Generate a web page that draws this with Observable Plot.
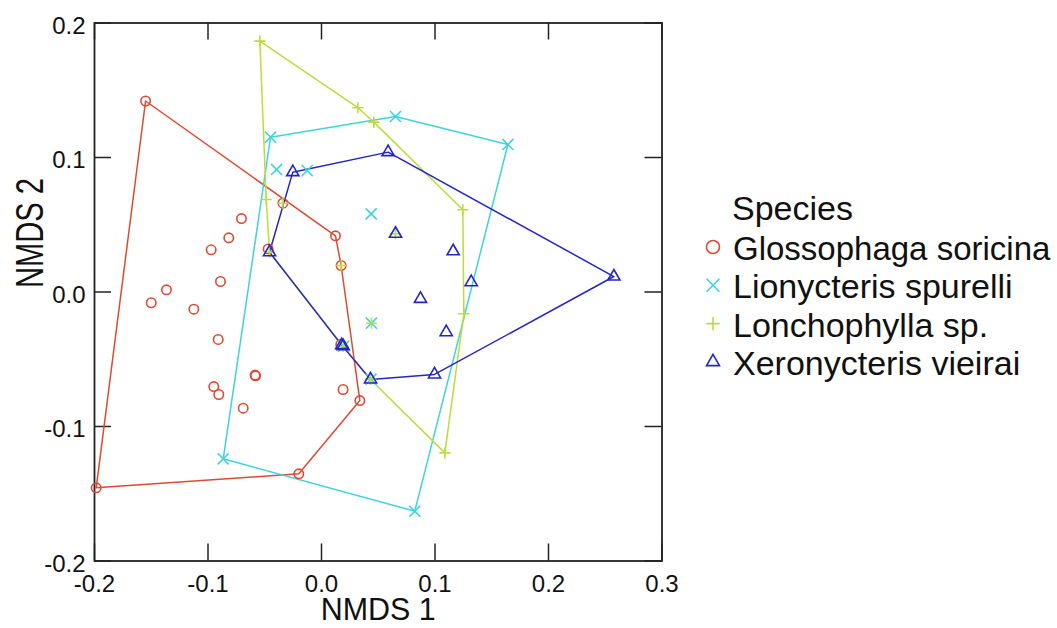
<!DOCTYPE html>
<html>
<head>
<meta charset="utf-8">
<script src="https://cdn.jsdelivr.net/npm/d3@7"></script>
<script src="https://cdn.jsdelivr.net/npm/@observablehq/plot@0.6"></script>
<style>
  html, body { margin: 0; padding: 0; background: #fff; }
  #wrap { position: relative; width: 1057px; height: 628px; overflow: hidden; }
  #legend { position: absolute; left: 0; top: 0; }
</style>
</head>
<body>
<div id="wrap"></div>
<script>
// ---- data ----
const speciesNames = ["Glossophaga soricina", "Lionycteris spurelli", "Lonchophylla sp.", "Xeronycteris vieirai"];
const speciesColors = ["#dd4a33", "#3ed4dc", "#bcdc3c", "#2424c8"];
const speciesSymbols = ["circle", "times", "plus", "triangle2"];

const glossX = [-0.155, -0.1985, -0.020, 0.0338, 0.0123, 0.0173, -0.034, -0.0705, -0.0817, -0.0972, -0.089, -0.1366, -0.150, -0.1125, -0.091, -0.0581, -0.0585, -0.0949, -0.0905, -0.069, 0.019, -0.047, 0.017];
const glossY = [0.142, -0.1456, -0.1352, -0.0807, 0.0418, 0.0197, 0.066, 0.0546, 0.0403, 0.0314, 0.0078, 0.0016, -0.008, -0.0128, -0.0353, -0.0623, -0.0618, -0.0703, -0.0762, -0.0864, -0.0725, 0.032, -0.039];

const lionX = [-0.0449, 0.0652, 0.1642, 0.0822, -0.0866, -0.0396, -0.0126, 0.0438, 0.044, 0.0195, 0.0436];
const lionY = [0.1151, 0.1305, 0.1097, -0.163, -0.124, 0.0911, 0.0903, 0.0581, -0.0232, -0.0403, -0.0648];

const lonchX = [-0.0543, 0.032, 0.0461, 0.1245, 0.1254, 0.1087, 0.0432, 0.0191, -0.0458, -0.0487, 0.044, 0.0173, -0.034, 0.0652];
const lonchY = [0.1865, 0.137, 0.1263, 0.0611, -0.0162, -0.1196, -0.065, -0.0403, 0.0296, 0.0688, -0.0232, 0.0197, 0.066, 0.0433];

const xeroX = [-0.0253, 0.0587, 0.2576, 0.0996, 0.0432, 0.0191, 0.0178, -0.0458, 0.0652, 0.116, 0.1319, 0.0872, 0.1099];
const xeroY = [0.0891, 0.104, 0.0115, -0.0613, -0.065, -0.0403, -0.0395, 0.0296, 0.0433, 0.0303, 0.0073, -0.0051, -0.0299];

const xTicks = [-0.2, -0.1, 0.0, 0.1, 0.2, 0.3];
const yTicks = [-0.2, -0.1, 0.0, 0.1, 0.2];
const xDomain = [-0.2, 0.3];
const yDomain = [-0.2, 0.2];
const xTitle = "NMDS 1";
const yTitle = "NMDS 2";
const legendTitle = "Species";

// ---- build tables ----
const seriesXY = [[glossX, glossY], [lionX, lionY], [lonchX, lonchY], [xeroX, xeroY]];
const points = [];
const hulls = [];
seriesXY.forEach(([xs, ys], i) => {
  const pts = xs.map((x, j) => [x, ys[j]]);
  pts.forEach(([x, y]) => points.push({species: speciesNames[i], x, y}));
  const hull = d3.polygonHull(pts);
  hull.concat([hull[0]]).forEach(([x, y]) => hulls.push({species: speciesNames[i], x, y}));
});

const fmt = d => d.toFixed(1);
const sansFont = "'Liberation Sans', Arial, Helvetica, sans-serif";
const frameW = 1057 - 94 - 395.5;
const frameH = 628 - 22.5 - 67.5;
const tickLen = 17;

const marks = [
  Plot.axisX({ticks: xTicks, tickSize: 0, tickPadding: 14, fontSize: 24, tickFormat: fmt, label: null, fill: "#111"}),
  Plot.axisY({ticks: yTicks, tickSize: 0, tickPadding: 9, fontSize: 24, tickFormat: fmt, label: null, dy: 3, fill: "#111"}),
  // inward ticks
  Plot.ruleX(xTicks, {x: d => d, insetTop: frameH - tickLen, stroke: "#222", strokeWidth: 1.5}),
  Plot.ruleX(xTicks, {x: d => d, insetBottom: frameH - tickLen, stroke: "#222", strokeWidth: 1.5}),
  Plot.ruleY(yTicks, {y: d => d, insetRight: frameW - tickLen, stroke: "#222", strokeWidth: 1.5}),
  Plot.ruleY(yTicks, {y: d => d, insetLeft: frameW - tickLen, stroke: "#222", strokeWidth: 1.5}),
  Plot.frame({stroke: "#222", strokeWidth: 1.8})
];

speciesNames.forEach((name, i) => {
  marks.push(Plot.line(hulls.filter(d => d.species === name), {x: "x", y: "y", stroke: speciesColors[i], strokeWidth: 1.5}));
});
const sizes = [4.7, 5.1, 3.7, 5.8];
speciesNames.forEach((name, i) => {
  marks.push(Plot.dot(points.filter(d => d.species === name), {x: "x", y: "y", stroke: speciesColors[i], symbol: () => speciesSymbols[i], r: sizes[i], strokeWidth: 1.6, fill: "none"}));
});

marks.push(Plot.text([xTitle], {frameAnchor: "bottom", text: d => d, dy: 59, lineAnchor: "bottom", fontSize: 32, fill: "#111"}));
marks.push(Plot.text([yTitle], {frameAnchor: "left", text: d => d, dx: -52, dy: -4, rotate: -90, lineAnchor: "bottom", fontSize: 38, fill: "#111"}));

const chart = Plot.plot({
  width: 1057,
  height: 628,
  marginLeft: 94,
  marginRight: 395.5,
  marginTop: 22.5,
  marginBottom: 67.5,
  x: {domain: xDomain},
  y: {domain: yDomain},
  style: {fontFamily: sansFont, background: "#fff", color: "#111"},
  marks
});
// condense the axis titles (reference uses a narrow face)
d3.select(chart).selectAll("text").each(function() {
  const t = this.textContent;
  if (t === xTitle) d3.select(this).attr("textLength", 115).attr("lengthAdjust", "spacingAndGlyphs");
  if (t === yTitle) d3.select(this).attr("textLength", 110).attr("lengthAdjust", "spacingAndGlyphs");
});
const wrap = document.getElementById("wrap");
wrap.appendChild(chart);

// ---- legend ----
const leg = d3.select(wrap).append("svg").attr("id", "legend").attr("width", 1057).attr("height", 628)
  .style("font-family", sansFont);
leg.append("text").attr("x", 732).attr("y", 220).attr("font-size", 34).attr("fill", "#111").text(legendTitle);
const symMap = {circle: d3.symbolCircle, times: d3.symbolTimes, plus: d3.symbolPlus, triangle2: d3.symbolTriangle2};
const legSizes = [Math.PI * 6.5 * 6.5, 112, 60, 120];
speciesNames.forEach((name, i) => {
  const base = 260 + i * 38.3;
  leg.append("path")
    .attr("d", d3.symbol(symMap[speciesSymbols[i]], legSizes[i])())
    .attr("transform", `translate(713,${base - 13})`)
    .attr("fill", "none").attr("stroke", speciesColors[i]).attr("stroke-width", 1.6);
  leg.append("text").attr("x", 733).attr("y", base).attr("font-size", i === 0 ? 33 : 34).attr("fill", "#111").text(name);
});
</script>
</body>
</html>
